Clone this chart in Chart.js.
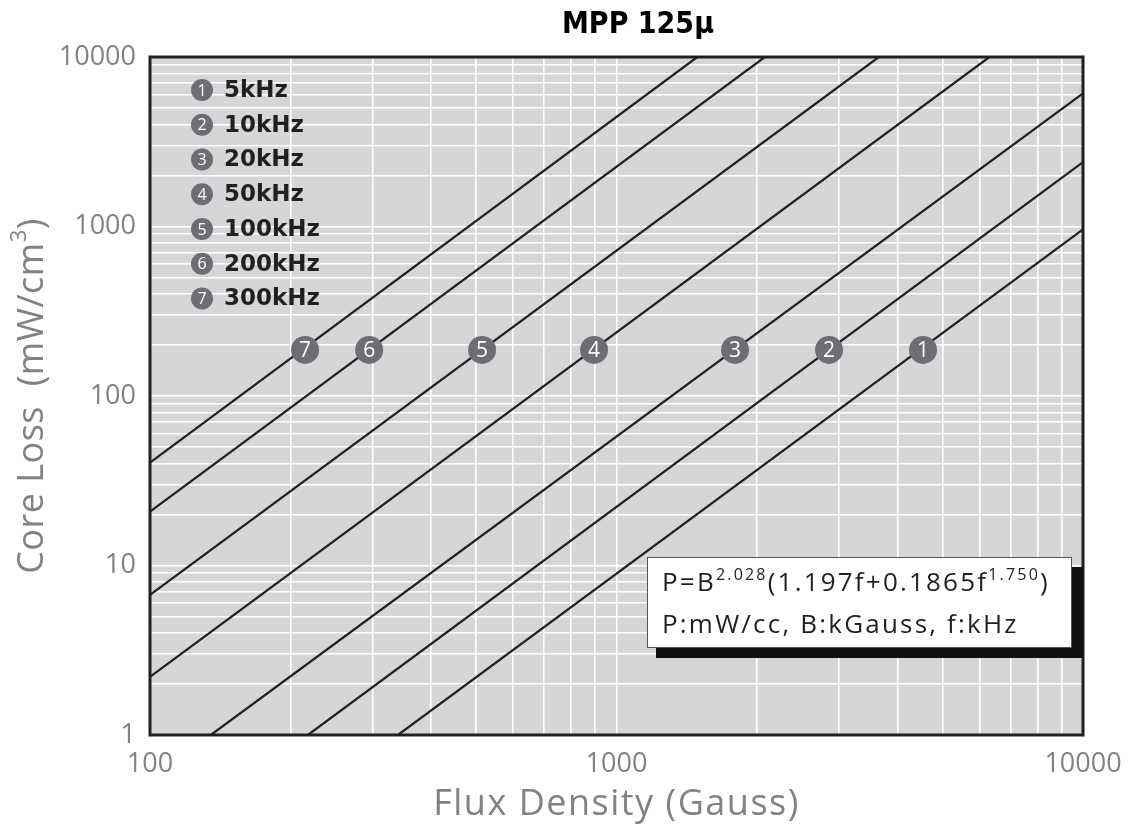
<!DOCTYPE html>
<html>
<head>
<meta charset="utf-8">
<title>MPP 125µ core loss</title>
<script src="https://cdn.jsdelivr.net/npm/chart.js@4/dist/chart.umd.min.js"></script>
<style>
  html, body { margin: 0; padding: 0; background: #ffffff; }
  #wrap { width: 1129px; height: 825px; }
</style>
</head>
<body>
<div id="wrap"><canvas id="chart" width="1129" height="825"></canvas></div>
<script>
// Frequencies shown, one straight loss line each (log-log)
const freqLabels = ['5kHz', '10kHz', '20kHz', '50kHz', '100kHz', '200kHz', '300kHz'];
const freqNumbers = ['1', '2', '3', '4', '5', '6', '7'];

// Where each line enters the plot (flux in Gauss, loss in mW/cm3)
const fluxStart = [340, 218, 135, 100, 100, 100, 100];
const lossStart = [1, 1, 1, 2.2, 6.7, 20.8, 40.5];
// Where each line leaves the plot
const fluxEnd = [10000, 10000, 10000, 6300, 3650, 2080, 1490];
const lossEnd = [960, 2400, 6100, 10000, 10000, 10000, 10000];

// Numbered badges sitting on each line
const markerFlux = [4540, 2855, 1795, 895, 515, 295, 215];
const markerLoss = [187, 187, 187, 187, 187, 187, 187];

// Labelled axis ticks
const xTickLabels = [100, 1000, 10000];
const yTickLabels = [1, 10, 100, 1000, 10000];

const TITLE = 'MPP 125µ';
const X_TITLE = 'Flux Density (Gauss)';
const Y_TITLE = 'Core Loss  (mW/cm';
const FORMULA_LINE2 = 'P:mW/cc, B:kGauss, f:kHz';

const INK = '#231f20';
const BADGE = '#6d6e71';
const AXIS_TEXT = '#808285';
const PLOT_BG = '#d5d6d8';

// 1..9 per decade gridlines for a log axis
function logGrid(min, max) {
  const vals = [];
  for (let d = min; d < max; d *= 10) {
    for (let m = 1; m <= 9; m++) vals.push(m * d);
  }
  vals.push(max);
  return vals;
}

const lineDatasets = freqLabels.map((lab, i) => ({
  label: lab,
  data: [{ x: fluxStart[i], y: lossStart[i] }, { x: fluxEnd[i], y: lossEnd[i] }],
  showLine: true,
  borderColor: INK,
  borderWidth: 2.2,
  pointRadius: 0,
  order: 2
}));

const markerDataset = {
  label: 'markers',
  data: markerFlux.map((x, i) => ({ x, y: markerLoss[i] })),
  showLine: false,
  pointRadius: 14,
  pointHoverRadius: 14,
  pointBackgroundColor: BADGE,
  pointBorderColor: BADGE,
  pointBorderWidth: 0,
  order: 0
};

function drawBadge(ctx, x, y, r, txt, fontPx) {
  ctx.save();
  ctx.fillStyle = BADGE;
  ctx.beginPath();
  ctx.arc(x, y, r, 0, Math.PI * 2);
  ctx.fill();
  ctx.fillStyle = '#ffffff';
  ctx.font = fontPx + 'px "Open Sans", "DejaVu Sans", sans-serif';
  ctx.textAlign = 'center';
  ctx.textBaseline = 'middle';
  ctx.fillText(txt, x, y + 1);
  ctx.restore();
}

// Text with superscript segments: [text, isSup]
function drawRich(ctx, parts, x, baseY, size, supSize, supRise) {
  let cx = x;
  parts.forEach(([t, sup]) => {
    ctx.font = (sup ? supSize : size) + 'px "Open Sans", "DejaVu Sans", sans-serif';
    ctx.fillText(t, cx, sup ? baseY - supRise : baseY);
    cx += ctx.measureText(t).width;
  });
  return cx;
}

const decor = {
  id: 'decor',
  beforeDraw(chart) {
    const { ctx, chartArea: a } = chart;
    ctx.save();
    ctx.fillStyle = '#ffffff';
    ctx.fillRect(0, 0, chart.width, chart.height);
    ctx.fillStyle = PLOT_BG;
    ctx.fillRect(a.left, a.top, a.right - a.left, a.bottom - a.top);
    ctx.restore();
  },
  afterDatasetsDraw(chart) {
    const { ctx, chartArea: a } = chart;

    // numbers on the line badges
    const meta = chart.getDatasetMeta(chart.data.datasets.indexOf(markerDataset));
    ctx.save();
    ctx.fillStyle = '#ffffff';
    ctx.font = '21px "Open Sans", "DejaVu Sans", sans-serif';
    ctx.textAlign = 'center';
    ctx.textBaseline = 'middle';
    meta.data.forEach((pt, i) => {
      ctx.fillText(freqNumbers[i], pt.x, pt.y + 1);
    });
    ctx.restore();

    // plot frame
    ctx.save();
    ctx.strokeStyle = INK;
    ctx.lineWidth = 3;
    ctx.strokeRect(a.left, a.top, a.right - a.left, a.bottom - a.top);
    ctx.restore();

    // frequency key, upper left
    ctx.save();
    freqLabels.forEach((lab, i) => {
      const y = 90 + i * 34.75;
      drawBadge(ctx, 202, y, 11, freqNumbers[i], 16);
      ctx.fillStyle = INK;
      ctx.font = 'bold 23px "DejaVu Sans", sans-serif';
      ctx.textAlign = 'left';
      ctx.textBaseline = 'middle';
      ctx.fillText(lab, 224, y + 1);
    });
    ctx.restore();

    // loss formula box with drop shadow
    ctx.save();
    ctx.fillStyle = '#111111';
    ctx.fillRect(656, 567, a.right - 656, 91);
    ctx.fillStyle = '#ffffff';
    ctx.fillRect(647, 557, 425, 91);
    ctx.strokeStyle = '#555555';
    ctx.lineWidth = 1;
    ctx.strokeRect(647.5, 557.5, 424, 90);
    ctx.fillStyle = INK;
    ctx.textAlign = 'left';
    ctx.textBaseline = 'alphabetic';
    ctx.letterSpacing = '2.2px';
    drawRich(ctx, [['P=B', false], ['2.028', true], ['(1.197f+0.1865f', false], ['1.750', true], [')', false]],
      662, 591, 26, 16, 11);
    ctx.font = '26px "Open Sans", "DejaVu Sans", sans-serif';
    ctx.fillText(FORMULA_LINE2, 662, 633);
    ctx.restore();
  },
  afterDraw(chart) {
    const { ctx, chartArea: a } = chart;
    ctx.save();
    // chart title
    ctx.fillStyle = '#000000';
    ctx.font = 'bold 30px "DejaVu Sans Condensed", "DejaVu Sans", sans-serif';
    ctx.textAlign = 'center';
    ctx.textBaseline = 'alphabetic';
    ctx.fillText(TITLE, 638, 33);

    // x axis title
    ctx.fillStyle = AXIS_TEXT;
    ctx.font = '36px "Open Sans", "DejaVu Sans", sans-serif';
    ctx.letterSpacing = '1.5px';
    ctx.fillText(X_TITLE, (a.left + a.right) / 2, 815);

    // y axis title, rotated, with cm superscript 3
    ctx.letterSpacing = '0.5px';
    ctx.translate(43, 396);
    ctx.rotate(-Math.PI / 2);
    ctx.font = '36px "Open Sans", "DejaVu Sans", sans-serif';
    const w1 = ctx.measureText(Y_TITLE).width;
    ctx.font = '22px "Open Sans", "DejaVu Sans", sans-serif';
    const w2 = ctx.measureText('3').width;
    ctx.font = '36px "Open Sans", "DejaVu Sans", sans-serif';
    const w3 = ctx.measureText(')').width;
    const total = w1 + w2 + w3;
    ctx.textAlign = 'left';
    let cx = -total / 2;
    ctx.fillText(Y_TITLE, cx, 0);
    cx += w1;
    ctx.font = '22px "Open Sans", "DejaVu Sans", sans-serif';
    ctx.fillText('3', cx, -17);
    cx += w2;
    ctx.font = '36px "Open Sans", "DejaVu Sans", sans-serif';
    ctx.fillText(')', cx, 0);
    ctx.restore();
  }
};

const tickFont = { family: '"Open Sans", "DejaVu Sans", sans-serif', size: 27 };

new Chart(document.getElementById('chart'), {
  type: 'scatter',
  data: { datasets: [markerDataset, ...lineDatasets] },
  options: {
    responsive: false,
    animation: false,
    devicePixelRatio: 1,
    layout: { padding: { top: 57, right: 46, left: 0, bottom: 0 } },
    plugins: { legend: { display: false }, tooltip: { enabled: false }, title: { display: false } },
    scales: {
      x: {
        type: 'logarithmic',
        min: 100,
        max: 10000,
        afterBuildTicks: s => { s.ticks = logGrid(100, 10000).map(v => ({ value: v })); },
        afterFit: s => { s.height = 90; s.paddingLeft = 0; s.paddingRight = 0; },
        grid: { color: '#ffffff', lineWidth: 1.6, drawTicks: false },
        border: { display: false },
        ticks: {
          autoSkip: false,
          maxRotation: 0,
          padding: 13,
          color: AXIS_TEXT,
          font: tickFont,
          callback: v => (xTickLabels.includes(v) ? String(v) : '')
        }
      },
      y: {
        type: 'logarithmic',
        min: 1,
        max: 10000,
        afterBuildTicks: s => { s.ticks = logGrid(1, 10000).map(v => ({ value: v })); },
        afterFit: s => { s.width = 150; s.paddingTop = 0; s.paddingBottom = 0; },
        grid: { color: '#ffffff', lineWidth: 1.6, drawTicks: false },
        border: { display: false },
        ticks: {
          autoSkip: false,
          padding: 14,
          color: AXIS_TEXT,
          font: tickFont,
          callback: v => (yTickLabels.includes(v) ? String(v) : '')
        }
      }
    }
  },
  plugins: [decor]
});
</script>
</body>
</html>
